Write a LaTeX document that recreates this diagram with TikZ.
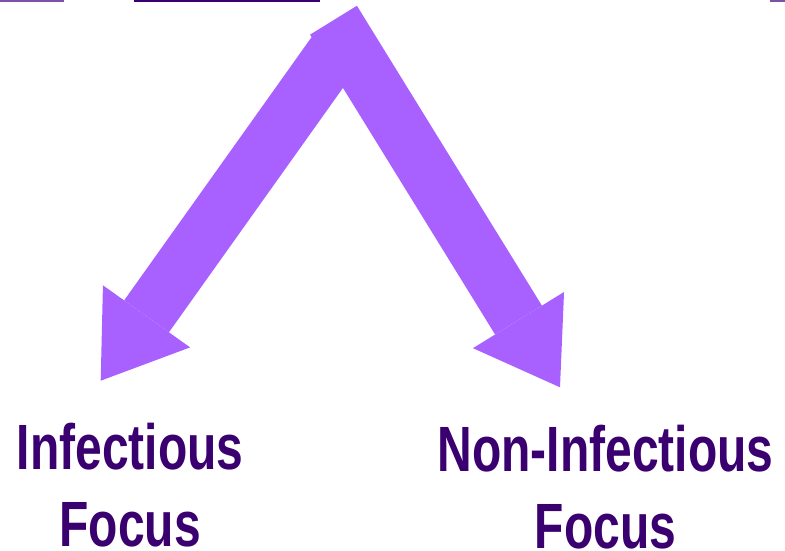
\documentclass[tikz,border=0pt]{standalone}
\usepackage{fontspec}
\usepackage{tikz}
\usetikzlibrary{arrows.meta}
\newfontfamily\labelfont[FakeStretch=0.75]{Liberation Sans}
\definecolor{mypurple}{RGB}{168,96,255}
\definecolor{mydark}{RGB}{58,0,112}
\definecolor{mymid}{RGB}{127,80,168}
\def\ShaftW{55pt}
\def\HeadW{107pt}
\def\HeadL{79pt}
\tikzset{
  bigarrow/.style={draw=mypurple, line width=\ShaftW, line cap=butt,
    -{Triangle[width=\HeadW, length=\HeadL, line width=0pt]}},
  label/.style={font=\labelfont\bfseries\fontsize{64}{77}\selectfont,
    text=mydark, align=center, inner sep=0pt, text depth=0pt, anchor=base west}
}

\begin{document}
\begin{tikzpicture}[x=1pt, y=-1pt]
  \useasboundingbox (0,0) rectangle (785,551);

  % strips cut at the top edge
  \fill[mymid] (0,0) rectangle (64,1.6);
  \fill[mydark] (134,0) rectangle (320,1.6);
  \fill[mymid] (770,0) rectangle (785,1.6);

  % start and end points of the two arrows
  \coordinate (LS) at (336.4,49.7);
  \coordinate (LT) at (100.7,380.7);
  \coordinate (RS) at (333.5,20.2);
  \coordinate (RT) at (560,387.3);

  % the two labels (base = baseline of the last line)
  \node[label] (inf) at (16.7,546.5) {Infectious\\Focus};
  \node[label] (noninf) at (437.3,548) {Non-Infectious\\Focus};

  \draw[bigarrow] (LS) -- (LT);
  \draw[bigarrow] (RS) -- (RT);
\end{tikzpicture}
\end{document}
